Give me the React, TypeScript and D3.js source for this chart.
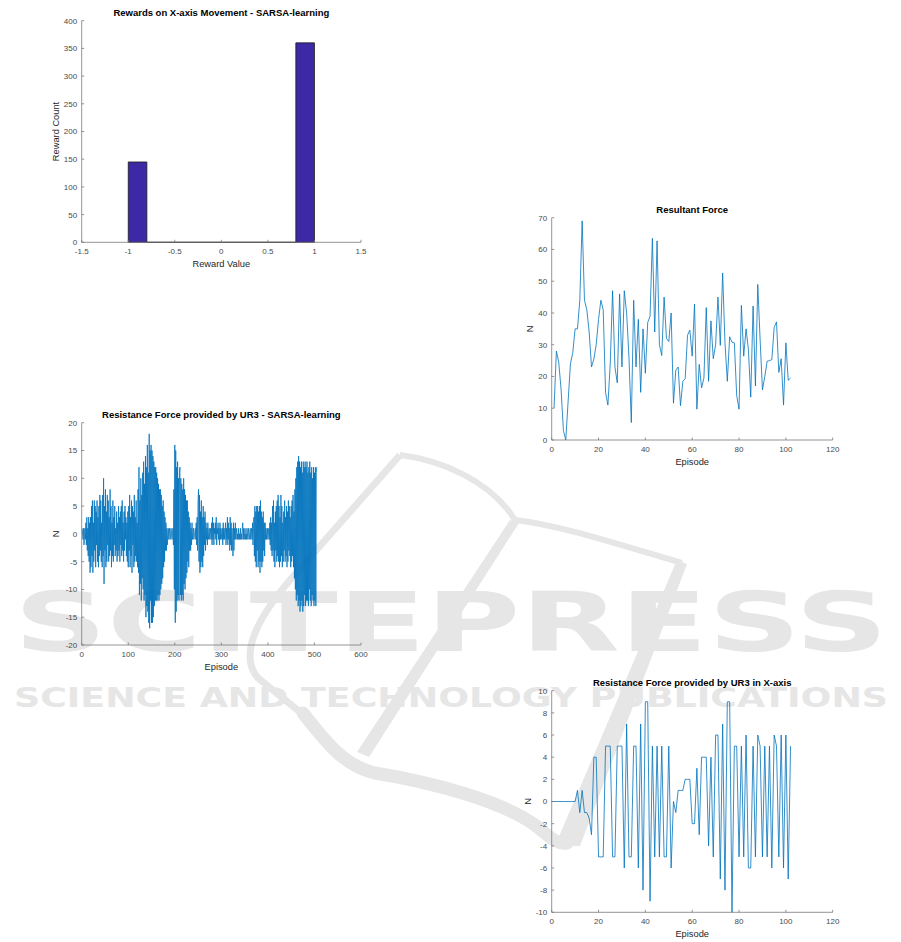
import React from 'react';
import * as d3 from 'd3';

// ---- Rewards histogram (SARSA) ----
const rewardBinEdges = [-1, -0.8, -0.6, -0.4, -0.2, 0, 0.2, 0.4, 0.6, 0.8, 1];
const rewardCounts = [145, 0, 0, 0, 0, 0, 0, 0, 0, 360];
const rewardXTicks = [-1.5, -1, -0.5, 0, 0.5, 1, 1.5];
const rewardYTicks = [0, 50, 100, 150, 200, 250, 300, 350, 400];

// ---- Resultant force, episodes 1..102 ----
const resultantForce = [
  10, 28, 24.5, 16, 3, 0, 12, 24, 27.5, 35,
  35, 44, 69, 44, 41, 34, 23, 25.5, 30, 38,
  44, 41, 15, 11, 24, 47, 23, 18, 46, 23,
  47, 40, 26, 5.5, 44, 23, 38, 15, 35, 21,
  37, 39, 63.5, 34, 62.7, 30, 26.6, 45, 32, 31,
  40, 11.6, 22, 23, 10.8, 18.5, 19.3, 33, 34.6, 26.4,
  42.8, 9.7, 23.8, 16.4, 19.5, 41.7, 18.5, 37.5, 25.6, 30,
  45, 29.8, 52.6, 30.6, 18.5, 32.5, 30.8, 30.6, 14, 9.7,
  42.4, 26.4, 35, 28.5, 13.5, 42.2, 17, 49, 31.7, 15.8,
  20, 24.8, 25, 25.3, 35.4, 37.2, 21.3, 25.6, 11, 30.6,
  18.8, 19.5,
];
const episodeTicks120 = [0, 20, 40, 60, 80, 100, 120];
const resultantYTicks = [0, 10, 20, 30, 40, 50, 60, 70];

// ---- Resistance force SARSA, episodes 1..505 ----
const sarsaResistance = [
  1, 0, -1, 1, -2, 0, 1, -1, 2, -2, 3, -3, 1, -4, 3, -5, 2, -7, 3, -6,
  5, -4, 6, -7, 2, -5, 6, -3, 5, -6, 4, -2, 6, -5, 3, -6, 5, -4, 7, -3,
  6, -5, 2, -6, 7, -4, 10, -9, 5, -3, 8, -6, 4, -5, 7, -2, 6, -5, 3, -4,
  8, -3, 5, -6, 2, -4, 6, -5, 3, -2, 5, -4, 1, -3, 4, -5, 2, -4, 5, -3,
  3, -5, 4, -2, 5, -4, 6, -3, 2, -5, 4, -3, 5, -1, 3, -4, 2, -5, 4, -6,
  5, -3, 7, -6, 3, -4, 6, -7, 5, -2, 4, -6, 7, -5, 3, -4, 6, -5, 2, -6,
  8, -7, 12, -11, 6, -9, 10, -12, 7, -8, 11, -10, 13, -12, 9, -11, 14, -15, 12, -13,
  16, -14, 11, -16, 18, -17, 15, -12, 16, -16, 15, -16, 14, -15, 13, -13, 12, -12, 12, -12,
  11, -12, 10, -11, 9, -12, 8, -11, 8, -10, 7, -9, 5, -8, 6, -6, 4, -5, 3, -3,
  2, -3, 1, -2, 0, 1, -1, 0, 1, -1, 0, 1, 0, -1, 0, 1, -2, 8, -10, 16,
  -16, 15, -14, 12, -12, 13, -11, 10, -12, 11, 12, -11, 10, -12, 9, -11, 8, -12, 10, -9,
  8, -10, 7, -8, 6, -7, 6, -5, 4, -6, 3, -3, 2, -3, 1, -2, 2, -1, 0, 1,
  -1, 0, 0, 1, -1, 2, -2, 3, -3, 6, 8, -5, 7, -7, 4, -6, 6, -5, 3, -6,
  5, -4, 3, -2, 4, -3, 2, -1, 1, -2, 2, -1, 0, 1, -1, 0, 1, -1, 2, -2,
  3, -1, 2, -2, 1, 0, 2, -1, 3, -2, 1, 0, 2, -1, 1, -2, 2, -1, 1, 0,
  -1, 1, -2, 2, -1, 1, -1, 0, 2, -2, 1, -1, 3, -2, 2, -1, 1, -3, 3, -2,
  2, -3, 1, -2, -4, 2, -3, 1, -1, 2, -1, 0, 1, -1, 0, -1, 1, -1, 0, -1,
  1, -1, 0, -1, 1, 2, -1, 1, -1, 0, 1, -1, 0, -1, 1, 0, -1, 1, 0, -1,
  0, 1, -1, 0, 1, -1, 2, -2, 1, 3, -4, 5, -5, 4, -6, 5, -3, 5, -6, 4,
  -5, 5, -7, 6, -5, 4, -6, 3, -5, 4, -3, 2, -4, 2, -1, 1, -1, 0, 1, -1,
  0, 1, -1, 2, -2, 3, -3, 2, -4, 5, -3, 6, -5, 2, -6, 4, -3, 5, -5, 6,
  -4, 7, -5, 5, -6, 3, -5, 7, -4, 5, -6, 2, -5, 4, -3, 6, -5, 3, -4, 5,
  -6, 4, -5, 6, -3, 5, -4, 3, -6, 5, -5, 6, -4, 7, -6, 4, -8, 8, -10, 10,
  -12, 12, -11, 13, -13, 14, -12, 13, -14, 12, -13, 13, -12, 11, -14, 13, -13, 12, -11, 13,
  -13, 12, -12, 13, -12, 11, -13, 12, -10, 13, -12, 11, -13, 12, -11, 10, -12, 12, -13, 11,
  -12, 12, -13, 11, 12,
];
const sarsaXTicks = [0, 100, 200, 300, 400, 500, 600];
const sarsaYTicks = [-20, -15, -10, -5, 0, 5, 10, 15, 20];

// ---- Resistance force in X-axis, episodes 0..102 ----
const xAxisResistance = [
  0, 0, 0, 0, 0, 0, 0, 0, 0, 0, 0,
  1, -1, 1, -1, -1, -1.5, -3, 4, 4, -5,
  -5, -5, 5, 5, 5, -5, -5, 5, 5, 5,
  -6, 7, -5, -5, 5, 5, -6, 7, -8, 9,
  9, -9, 5, -5, 5, -5, 5, -5, -5, 5,
  -6, 0, -1, 1, 1, 1, 2, 2, 2, -2,
  -2, 3, -3, 4, 4, 4, -4, 4, -5, 6,
  6, -7, 7, -8, 9, 9, -10, 5, 5, -5,
  5, -5, 6, -6, -6, 5, -5, 6, 5, -5,
  5, -5, 5, -6, 6, 5, -5, 6, -6, 6,
  -7, 5,
];
const xAxisYTicks = [-10, -8, -6, -4, -2, 0, 2, 4, 6, 8, 10];

const FONT = '"Liberation Sans", Arial, Helvetica, sans-serif';
const LINE_BLUE = '#0072BD';
const AXIS = '#7a7a7a';
const TICK_TEXT = '#4a4a4a';
const WM = '#e6e6e6';

type Box = { left: number; right: number; top: number; bottom: number };

function Panel({ box, xDomain, yDomain, xTicks, yTicks, title, xLabel, yLabel, yLabelX, render }) {
  const x = d3.scaleLinear().domain(xDomain).range([box.left, box.right]);
  const y = d3.scaleLinear().domain(yDomain).range([box.bottom, box.top]);
  const cx = (box.left + box.right) / 2;
  const cy = (box.top + box.bottom) / 2;
  return (
    <g fontFamily={FONT}>
      {render(x, y)}
      <line x1={box.left} x2={box.right} y1={box.bottom} y2={box.bottom} stroke={AXIS} strokeWidth={0.8} />
      <line x1={box.left} x2={box.left} y1={box.top} y2={box.bottom} stroke={AXIS} strokeWidth={0.8} />
      {xTicks.map((t) => (
        <g key={'x' + t}>
          <line x1={x(t)} x2={x(t)} y1={box.bottom} y2={box.bottom - 2.5} stroke={AXIS} strokeWidth={0.8} />
          <text x={x(t)} y={box.bottom + 12} textAnchor="middle" fontSize={8} fill={TICK_TEXT}>{String(t)}</text>
        </g>
      ))}
      {yTicks.map((t) => (
        <g key={'y' + t}>
          <line x1={box.left} x2={box.left + 2.5} y1={y(t)} y2={y(t)} stroke={AXIS} strokeWidth={0.8} />
          <text x={box.left - 4.5} y={y(t) + 2.9} textAnchor="end" fontSize={8} fill={TICK_TEXT}>{String(t)}</text>
        </g>
      ))}
      <text x={cx} y={box.top - 4.5} textAnchor="middle" fontSize={9.5} fontWeight="bold" fill="#000">{title}</text>
      <text x={cx} y={box.bottom + 25} textAnchor="middle" fontSize={9.3} fill="#262626">{xLabel}</text>
      <text transform={`translate(${yLabelX},${cy}) rotate(-90)`} textAnchor="middle" fontSize={9.3} fill="#262626">{yLabel}</text>
    </g>
  );
}

function seriesPath(values: number[], start: number, x, y) {
  return d3.line<number>().x((_, i) => x(i + start)).y((v) => y(v))(values);
}

// publisher watermark behind the figures
function Watermark() {
  return (
    <g>
      <text x={14} y={651} fontSize={82} fontWeight="bold" fontFamily="DejaVu Sans" textLength={874} lengthAdjust="spacingAndGlyphs" fill={WM}>SCITEPRESS</text>
      <text x={14} y={707} fontSize={26} fontWeight="bold" fontFamily="DejaVu Sans" textLength={874} lengthAdjust="spacingAndGlyphs" fill={WM}>SCIENCE AND TECHNOLOGY PUBLICATIONS</text>
      <path d="M 400 455 L 290 580 Q 232 648 258 678 Q 285 700 305 716" fill="none" stroke={WM} strokeWidth={7} />
      <path d="M 303 713 C 328 745 345 766 375 773 C 430 782 500 800 535 825 C 548 835 556 845 567 843" fill="none" stroke={WM} strokeWidth={13} strokeLinecap="round" />
      <path d="M 400 455 C 440 460 490 480 515 520 C 560 525 620 545 682 563" fill="none" stroke={WM} strokeWidth={6} />
      <path d="M 677 560 L 687 564 L 580 846 L 555 846 Z" fill={WM} />
      <path d="M 510 520 L 519 523 L 369 757 L 357 752 Z" fill={WM} />
    </g>
  );
}

export default function App() {
  const histBox: Box = { left: 81.7, right: 361, top: 20.7, bottom: 242.3 };
  const resBox: Box = { left: 551.7, right: 832.7, top: 217.7, bottom: 440 };
  const sarsaBox: Box = { left: 81.7, right: 361, top: 422.7, bottom: 645 };
  const xBox: Box = { left: 551.7, right: 832.7, top: 690.7, bottom: 912.3 };

  return (
    <svg width={901} height={942} style={{ position: 'absolute', left: 0, top: 0, background: '#fff' }}>
      <rect width={901} height={942} fill="#fff" />
      <Watermark />

      <Panel
        box={histBox}
        xDomain={[-1.5, 1.5]}
        yDomain={[0, 400]}
        xTicks={rewardXTicks}
        yTicks={rewardYTicks}
        title="Rewards on X-axis Movement - SARSA-learning"
        xLabel="Reward Value"
        yLabel="Reward Count"
        yLabelX={58.5}
        render={(x, y) =>
          rewardCounts.map((c, i) => (
            <path
              key={i}
              d={`M ${x(rewardBinEdges[i])} ${y(0)} V ${y(c)} H ${x(rewardBinEdges[i + 1])} V ${y(0)} Z`}
              fill="#3d29a6"
              stroke="#1c1c1c"
              strokeWidth={0.8}
            />
          ))
        }
      />

      <Panel
        box={resBox}
        xDomain={[0, 120]}
        yDomain={[0, 70]}
        xTicks={episodeTicks120}
        yTicks={resultantYTicks}
        title="Resultant Force"
        xLabel="Episode"
        yLabel="N"
        yLabelX={533}
        render={(x, y) => (
          <path d={seriesPath(resultantForce, 1, x, y)} fill="none" stroke={LINE_BLUE} strokeWidth={0.8} />
        )}
      />

      <Panel
        box={sarsaBox}
        xDomain={[0, 600]}
        yDomain={[-20, 20]}
        xTicks={sarsaXTicks}
        yTicks={sarsaYTicks}
        title="Resistance Force provided by UR3 - SARSA-learning"
        xLabel="Episode"
        yLabel="N"
        yLabelX={58.5}
        render={(x, y) => (
          <path d={seriesPath(sarsaResistance, 1, x, y)} fill="none" stroke={LINE_BLUE} strokeWidth={0.8} />
        )}
      />

      <Panel
        box={xBox}
        xDomain={[0, 120]}
        yDomain={[-10, 10]}
        xTicks={episodeTicks120}
        yTicks={xAxisYTicks}
        title="Resistance Force provided by UR3 in X-axis"
        xLabel="Episode"
        yLabel="N"
        yLabelX={530.5}
        render={(x, y) => (
          <path d={seriesPath(xAxisResistance, 0, x, y)} fill="none" stroke={LINE_BLUE} strokeWidth={0.8} />
        )}
      />
    </svg>
  );
}
